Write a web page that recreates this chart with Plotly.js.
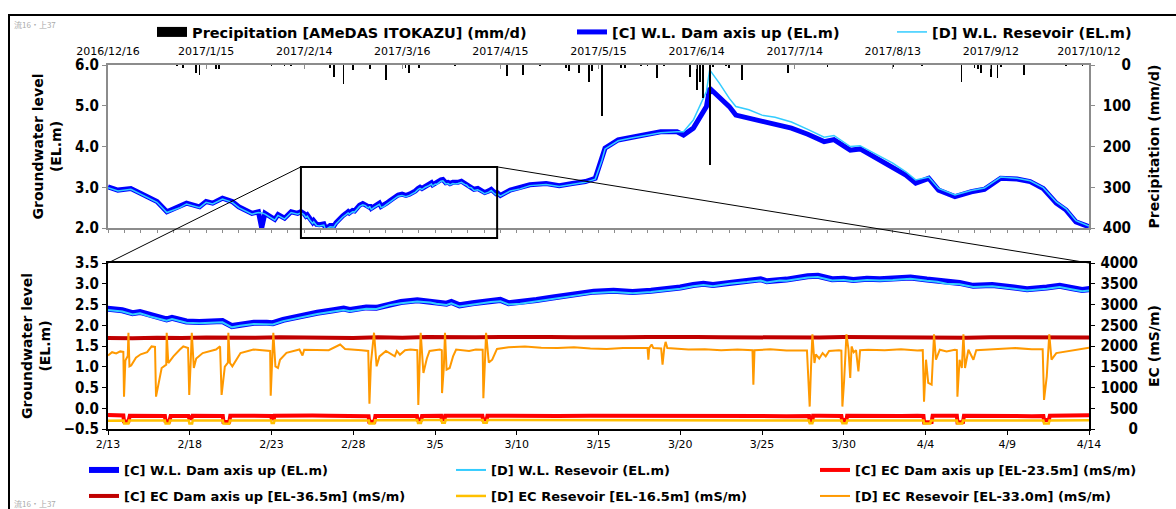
<!DOCTYPE html>
<html><head><meta charset="utf-8">
<script src="https://cdn.plot.ly/plotly-3.0.1.min.js"></script>
<style>html,body{margin:0;padding:0;background:#fff}#chart{width:1176px;height:509px}</style>
</head><body><div id="chart"></div>
<script>
// ---------------- DATA ----------------
const wlRange = ['2016-12-16', '2017-10-12'];
const zoomRange = ['2017-02-13', '2017-04-14'];

const precipTickDates = ['2016-12-16','2017-01-15','2017-02-14','2017-03-16','2017-04-15','2017-05-15','2017-06-14','2017-07-14','2017-08-13','2017-09-12','2017-10-12'];
const precipTickLabels = ['2016/12/16','2017/1/15','2017/2/14','2017/3/16','2017/4/15','2017/5/15','2017/6/14','2017/7/14','2017/8/13','2017/9/12','2017/10/12'];
const zoomTickDates = ['2017-02-13','2017-02-18','2017-02-23','2017-02-28','2017-03-05','2017-03-10','2017-03-15','2017-03-20','2017-03-25','2017-03-30','2017-04-04','2017-04-09','2017-04-14'];
const zoomTickLabels = ['2/13','2/18','2/23','2/28','3/5','3/10','3/15','3/20','3/25','3/30','4/4','4/9','4/14'];

// Precipitation AMeDAS ITOKAZU (mm/d)
const precipDates = ['2017-01-06','2017-01-08','2017-01-12','2017-01-13','2017-01-18','2017-01-19','2017-02-04','2017-02-08','2017-02-10','2017-02-22','2017-02-23','2017-02-26','2017-03-01','2017-03-06','2017-03-11','2017-03-17','2017-03-18','2017-03-21','2017-04-01','2017-04-17','2017-04-22','2017-04-27','2017-05-05','2017-05-06','2017-05-09','2017-05-12','2017-05-13','2017-05-16','2017-05-22','2017-05-23','2017-05-28','2017-05-30','2017-06-02','2017-06-04','2017-06-12','2017-06-14','2017-06-15','2017-06-16','2017-06-18','2017-06-19','2017-06-23','2017-06-24','2017-06-28','2017-07-12','2017-07-24','2017-08-13','2017-08-22','2017-09-03','2017-09-07','2017-09-08','2017-09-09','2017-09-12','2017-09-14','2017-09-15','2017-09-22','2017-10-05','2017-10-10'];
const precipValues = [3,8,20,25,10,10,3,3,3,8,29,47,12,10,38,8,20,8,3,26,24,2,8,15,19,41,15,125,8,8,3,3,33,3,29,61,41,82,245,5,3,8,37,20,5,4,3,41,8,10,20,29,33,5,25,3,3];

// Water level: [date, [C] Dam axis up, [D] Reservoir] (EL.m)
const waterLevel = [
['2016-12-16',3.01,2.99],['2016-12-19',2.93,2.91],['2016-12-23',2.97,2.95],['2016-12-26',2.85,2.83],['2016-12-31',2.65,2.63],
['2017-01-03',2.40,2.38],['2017-01-07',2.52,2.50],['2017-01-09',2.61,2.59],['2017-01-13',2.52,2.50],['2017-01-15',2.65,2.63],
['2017-01-17',2.61,2.59],['2017-01-20',2.73,2.71],['2017-01-23',2.65,2.63],['2017-01-25',2.52,2.50],['2017-01-29',2.36,2.34],
['2017-01-31',2.40,2.38],['2017-02-01',2.00,2.37],['2017-02-02',2.36,2.34],['2017-02-05',2.21,2.19],['2017-02-06',2.33,2.31],
['2017-02-08',2.24,2.22],['2017-02-10',2.40,2.38],['2017-02-12',2.36,2.34],
['2017-02-13 00:00',2.40,2.37],['2017-02-13 21:00',2.36,2.33],['2017-02-14 12:00',2.29,2.26],['2017-02-14 23:00',2.32,2.29],
['2017-02-15 14:00',2.24,2.21],['2017-02-16 00:00',2.20,2.17],['2017-02-16 14:00',2.14,2.11],['2017-02-16 22:00',2.18,2.15],
['2017-02-17 10:00',2.13,2.10],['2017-02-17 19:00',2.09,2.06],['2017-02-18 14:00',2.08,2.05],['2017-02-19 10:00',2.10,2.07],
['2017-02-20 00:00',2.10,2.07],['2017-02-20 14:00',1.98,1.95],['2017-02-21 02:00',2.02,1.99],['2017-02-21 22:00',2.06,2.03],
['2017-02-22 17:00',2.06,2.03],['2017-02-23 02:00',2.05,2.02],['2017-02-23 17:00',2.13,2.10],['2017-02-24 17:00',2.22,2.19],
['2017-02-25 19:00',2.30,2.27],['2017-02-26 19:00',2.36,2.33],['2017-02-27 10:00',2.40,2.37],['2017-02-27 19:00',2.37,2.34],
['2017-02-28 19:00',2.43,2.40],['2017-03-01 10:00',2.42,2.39],['2017-03-02 05:00',2.51,2.48],['2017-03-02 22:00',2.56,2.53],
['2017-03-03 22:00',2.60,2.57],['2017-03-04 17:00',2.58,2.55],['2017-03-05 02:00',2.55,2.52],['2017-03-05 17:00',2.52,2.49],
['2017-03-06 00:00',2.56,2.53],['2017-03-06 12:00',2.48,2.45],['2017-03-07 07:00',2.53,2.50],['2017-03-08 10:00',2.59,2.56],
['2017-03-09 00:00',2.61,2.58],['2017-03-09 12:00',2.53,2.50],['2017-03-10 05:00',2.55,2.52],['2017-03-11 05:00',2.61,2.58],
['2017-03-12 05:00',2.67,2.64],['2017-03-13 10:00',2.75,2.72],['2017-03-14 17:00',2.81,2.78],['2017-03-15 22:00',2.83,2.80],
['2017-03-17 02:00',2.80,2.77],['2017-03-18 05:00',2.83,2.80],['2017-03-19 05:00',2.87,2.84],['2017-03-20 00:00',2.91,2.88],
['2017-03-20 19:00',2.97,2.94],['2017-03-21 10:00',3.00,2.97],['2017-03-22 00:00',2.97,2.94],['2017-03-23 00:00',3.03,3.00],
['2017-03-24 02:00',3.07,3.04],['2017-03-24 22:00',3.11,3.08],['2017-03-25 07:00',3.06,3.03],['2017-03-26 02:00',3.11,3.08],
['2017-03-26 12:00',3.10,3.07],['2017-03-27 19:00',3.18,3.15],['2017-03-28 10:00',3.19,3.16],['2017-03-29 07:00',3.11,3.08],
['2017-03-30 00:00',3.12,3.09],['2017-03-30 14:00',3.09,3.06],['2017-03-31 10:00',3.12,3.09],['2017-04-01 05:00',3.11,3.08],
['2017-04-02 00:00',3.12,3.09],['2017-04-03 02:00',3.15,3.12],['2017-04-04 02:00',3.10,3.07],['2017-04-04 17:00',3.08,3.05],
['2017-04-05 07:00',3.03,3.00],['2017-04-06 02:00',3.02,2.99],['2017-04-06 22:00',2.95,2.92],['2017-04-08 02:00',2.97,2.94],
['2017-04-09 10:00',2.91,2.88],['2017-04-10 05:00',2.87,2.84],['2017-04-11 10:00',2.91,2.88],['2017-04-12 05:00',2.95,2.92],
['2017-04-13 00:00',2.89,2.86],['2017-04-13 14:00',2.85,2.82],['2017-04-14 00:00',2.87,2.84],
['2017-04-15',2.80,2.78],['2017-04-18',2.93,2.91],['2017-04-21',2.98,2.96],['2017-04-24',3.06,3.04],['2017-04-29',3.09,3.07],
['2017-05-03',3.04,3.02],['2017-05-07',3.09,3.07],['2017-05-11',3.14,3.12],['2017-05-14',3.22,3.20],['2017-05-16',3.67,3.65],
['2017-05-17',3.96,3.94],['2017-05-21',4.16,4.14],['2017-05-25',4.23,4.21],['2017-05-29',4.28,4.26],['2017-06-03',4.36,4.34],
['2017-06-08',4.36,4.36],['2017-06-10',4.28,4.36],['2017-06-13',4.45,4.65],['2017-06-15',4.73,4.98],['2017-06-17',4.98,5.35],
['2017-06-18',5.43,5.88],['2017-06-21',5.22,5.55],['2017-06-24',4.98,5.18],['2017-06-26',4.77,4.98],['2017-06-30',4.69,4.90],
['2017-07-04',4.61,4.77],['2017-07-08',4.55,4.72],['2017-07-13',4.45,4.60],['2017-07-18',4.30,4.42],['2017-07-23',4.12,4.23],
['2017-07-26',4.17,4.27],['2017-07-31',3.91,4.00],['2017-08-03',3.94,4.02],['2017-08-08',3.72,3.80],['2017-08-13',3.50,3.59],
['2017-08-17',3.30,3.38],['2017-08-20',3.10,3.18],['2017-08-24',3.22,3.25],['2017-08-27',2.93,2.97],['2017-09-01',2.77,2.81],
['2017-09-06',2.89,2.92],['2017-09-10',2.95,2.98],['2017-09-15',3.22,3.25],['2017-09-20',3.20,3.22],['2017-09-24',3.14,3.16],
['2017-09-28',2.97,2.99],['2017-10-02',2.61,2.64],['2017-10-05',2.44,2.47],['2017-10-08',2.15,2.18],['2017-10-12',2.03,2.05]
];

// EC series (mS/m), 2017, [MM-DD HH:mm, value]
const ecC235 = [
['02-13 00:00',340],['02-13 12:00',330],['02-13 22:30',325],['02-13 23:30',185],['02-14 06:00',180],['02-14 08:00',320],
['02-15 00:00',315],['02-15 12:00',320],['02-16 11:30',315],['02-16 12:30',190],['02-16 18:00',185],['02-16 20:00',315],
['02-17 12:00',320],['02-17 22:00',315],['02-17 23:15',260],['02-18 02:30',255],['02-18 04:00',320],['02-19 12:00',320],
['02-20 00:30',315],['02-20 01:30',170],['02-20 10:00',175],['02-20 11:30',320],['02-21 12:00',325],['02-22 12:00',320],
['02-22 23:30',315],['02-23 00:15',255],['02-23 03:30',255],['02-23 04:30',320],['02-24 12:00',330],['02-25 12:00',325],
['02-26 12:00',320],['02-27 12:00',320],['02-28 12:00',315],['02-28 22:30',310],['02-28 23:30',175],['03-01 07:00',175],
['03-01 08:30',315],['03-02 12:00',320],['03-03 12:00',315],['03-03 21:30',315],['03-03 22:30',230],['03-04 04:00',230],
['03-04 05:00',315],['03-05 09:00',320],['03-05 10:00',230],['03-05 14:00',235],['03-05 15:00',320],['03-06 12:00',325],
['03-07 12:00',320],['03-07 21:30',320],['03-07 22:30',230],['03-08 04:00',235],['03-08 05:00',320],['03-09 12:00',325],
['03-10 12:00',320],['03-12 12:00',315],['03-14 12:00',320],['03-16 12:00',315],['03-18 12:00',320],['03-20 12:00',315],
['03-22 12:00',310],['03-24 12:00',315],['03-26 12:00',310],['03-27 21:00',315],['03-27 22:00',205],['03-28 02:00',210],
['03-28 03:00',320],['03-28 12:00',320],['03-29 20:30',315],['03-29 21:30',215],['03-30 04:00',220],['03-30 05:00',320],
['03-31 12:00',310],['04-01 12:00',320],['04-02 12:00',315],['04-03 12:00',320],['04-03 21:00',315],['04-03 22:00',160],
['04-04 09:00',165],['04-04 10:30',320],['04-05 12:00',315],['04-05 22:00',320],['04-05 23:00',160],['04-06 07:00',165],
['04-06 08:30',320],['04-07 12:00',310],['04-08 12:00',320],['04-09 12:00',315],['04-10 12:00',310],['04-11 05:00',315],
['04-11 06:00',215],['04-11 13:00',220],['04-11 14:30',320],['04-12 12:00',320],['04-13 12:00',325],['04-14 00:00',330]
];
const ecC365 = [
['02-13 00:00',2195],['02-14 12:00',2185],['02-16 00:00',2200],['02-17 12:00',2190],['02-19 00:00',2205],['02-20 12:00',2195],
['02-22 00:00',2200],['02-23 12:00',2210],['02-25 00:00',2200],['02-26 12:00',2205],['02-28 00:00',2195],['03-01 12:00',2210],
['03-03 00:00',2200],['03-04 12:00',2215],['03-06 00:00',2205],['03-07 12:00',2210],['03-09 00:00',2215],['03-10 12:00',2205],
['03-12 00:00',2215],['03-13 12:00',2210],['03-15 00:00',2220],['03-16 12:00',2210],['03-18 00:00',2215],['03-19 12:00',2205],
['03-21 00:00',2215],['03-22 12:00',2210],['03-24 00:00',2205],['03-25 12:00',2215],['03-27 00:00',2210],['03-28 12:00',2205],
['03-30 00:00',2215],['03-31 12:00',2210],['04-02 00:00',2205],['04-03 12:00',2215],['04-05 00:00',2210],['04-06 12:00',2200],
['04-08 00:00',2210],['04-09 12:00',2205],['04-11 00:00',2200],['04-12 12:00',2210],['04-14 00:00',2205]
];
const ecD165 = [
['02-13 00:00',200],['02-13 12:00',205],['02-13 23:00',205],['02-13 23:45',130],['02-14 06:00',130],['02-14 07:00',205],
['02-15 12:00',210],['02-16 11:30',205],['02-16 12:30',130],['02-16 18:00',130],['02-16 19:00',205],['02-17 22:30',205],
['02-17 23:30',130],['02-18 03:30',130],['02-18 04:30',205],['02-19 12:00',210],['02-20 00:30',205],['02-20 01:30',130],
['02-20 10:00',125],['02-20 11:00',205],['02-21 12:00',210],['02-22 23:30',205],['02-23 00:15',145],['02-23 03:30',145],
['02-23 04:30',205],['02-25 12:00',210],['02-27 12:00',210],['02-28 23:00',205],['02-28 23:45',130],['03-01 07:00',130],
['03-01 08:00',210],['03-03 22:00',215],['03-03 23:00',145],['03-04 03:30',145],['03-04 04:30',215],['03-05 09:30',215],
['03-05 10:30',150],['03-05 14:30',150],['03-05 15:30',215],['03-07 22:00',215],['03-07 23:00',150],['03-08 04:00',150],
['03-08 05:00',215],['03-12 12:00',215],['03-17 12:00',215],['03-22 12:00',210],['03-27 21:00',205],['03-27 22:00',140],
['03-28 02:00',140],['03-28 03:00',205],['03-29 21:00',205],['03-29 22:00',140],['03-30 04:00',140],['03-30 05:00',205],
['04-03 21:00',205],['04-03 22:00',130],['04-04 07:00',130],['04-04 08:00',205],['04-05 22:00',205],['04-05 23:00',130],
['04-06 06:00',130],['04-06 07:00',205],['04-11 05:00',205],['04-11 06:00',135],['04-11 13:00',135],['04-11 14:00',205],
['04-14 00:00',210]
];
const ecD330 = [
['02-13 00:00',1770],['02-13 06:00',1850],['02-13 12:00',1820],['02-13 18:00',1870],['02-13 22:30',1860],['02-13 23:30',780],
['02-14 01:30',1650],['02-14 05:00',1760],['02-14 06:00',2320],['02-14 07:30',1510],['02-14 10:00',1530],['02-14 17:00',1720],
['02-15 00:00',1800],['02-15 09:30',1850],['02-15 16:00',1990],['02-15 21:00',1980],['02-15 22:30',780],['02-16 06:45',1470],
['02-16 13:30',1550],['02-16 14:10',2320],['02-16 16:30',1590],['02-17 00:00',1750],['02-17 09:30',1915],['02-17 14:30',1990],
['02-17 21:30',1950],['02-17 23:15',820],['02-18 01:30',1650],['02-18 03:00',2320],['02-18 06:00',1470],['02-18 09:30',1700],
['02-18 19:00',1830],['02-19 14:30',1915],['02-19 20:30',1990],['02-19 22:45',820],['02-20 03:30',1500],['02-20 08:00',1600],
['02-20 08:40',2320],['02-20 11:00',1590],['02-20 14:30',1510],['02-21 02:30',1830],['02-21 21:30',1915],['02-22 17:00',1900],
['02-22 22:00',1880],['02-22 22:50',800],['02-23 01:30',1700],['02-23 02:40',2320],['02-23 05:45',1510],['02-23 09:30',1470],
['02-23 12:30',1670],['02-23 22:00',1834],['02-24 17:00',1915],['02-24 21:30',1770],['02-25 00:00',1910],['02-26 12:00',1900],
['02-27 04:48',2036],['02-27 12:00',1930],['02-28 12:00',1900],['02-28 22:00',1880],['02-28 23:45',610],['03-01 02:00',1600],
['03-01 06:30',2320],['03-01 10:20',1510],['03-01 14:30',1750],['03-02 00:00',1880],['03-02 13:00',1750],['03-02 16:00',1880],
['03-02 20:30',1790],['03-03 04:00',1900],['03-03 12:00',1915],['03-03 22:00',1900],['03-03 23:30',580],['03-04 01:30',1500],
['03-04 03:00',2320],['03-04 07:00',1350],['03-04 12:00',1700],['03-04 16:00',1880],['03-05 07:00',1915],['03-05 10:00',1900],
['03-05 10:20',865],['03-05 13:00',1500],['03-05 14:40',2320],['03-05 17:00',1430],['03-05 21:30',1470],['03-06 02:30',1750],
['03-06 07:00',1915],['03-07 02:00',1880],['03-07 12:00',1915],['03-07 22:00',1910],['03-07 23:00',740],['03-08 01:00',1500],
['03-08 03:00',2320],['03-08 07:00',1600],['03-08 12:00',1670],['03-08 19:00',1930],['03-09 12:00',1970],['03-10 12:00',1990],
['03-11 12:00',1960],['03-12 12:00',1950],['03-13 12:00',1970],['03-14 12:00',1940],['03-15 12:00',1930],['03-16 12:00',1950],
['03-17 12:00',1940],['03-18 00:00',1950],['03-18 01:12',1670],['03-18 02:30',1950],['03-18 06:00',2036],['03-18 08:30',1950],
['03-18 20:00',1940],['03-18 22:00',1550],['03-19 00:30',1950],['03-19 02:30',2100],['03-19 05:00',1950],['03-20 12:00',1915],
['03-21 12:00',1920],['03-22 12:00',1900],['03-23 12:00',1915],['03-24 06:00',1910],['03-24 10:00',1900],['03-24 11:20',1067],
['03-24 13:00',1900],['03-25 12:00',1920],['03-26 12:00',1890],['03-27 18:00',1890],['03-27 22:00',540],['03-28 00:00',1500],
['03-28 02:00',2280],['03-28 05:00',1590],['03-28 07:00',1800],['03-28 12:00',1700],['03-28 17:00',1830],['03-28 21:30',1750],
['03-29 02:30',1880],['03-29 17:00',1900],['03-29 20:30',1890],['03-29 22:00',540],['03-30 00:30',1150],['03-30 04:00',2280],
['03-30 07:00',1910],['03-30 09:30',1230],['03-30 11:30',1990],['03-30 14:30',1850],['03-30 18:00',1900],['03-30 21:30',1390],
['03-31 00:00',1900],['03-31 12:00',1910],['04-01 12:00',1900],['04-02 12:00',1920],['04-03 12:00',1890],['04-03 20:00',1900],
['04-03 21:50',660],['04-04 00:45',1670],['04-04 04:00',1110],['04-04 09:00',1067],['04-04 12:30',2280],['04-04 15:20',1670],
['04-04 21:00',1910],['04-05 07:00',1870],['04-05 19:00',1910],['04-05 22:00',1900],['04-05 22:50',780],['04-06 02:00',1670],
['04-06 05:20',1470],['04-06 07:40',2280],['04-06 10:00',1470],['04-06 15:00',1910],['04-06 22:20',1670],['04-07 02:30',1900],
['04-08 12:00',1930],['04-09 12:00',1950],['04-10 12:00',1920],['04-11 04:00',1920],['04-11 06:00',700],['04-11 10:00',1270],
['04-11 13:40',2280],['04-11 17:00',1670],['04-12 00:00',1830],['04-12 14:30',1870],['04-13 05:00',1910],['04-14 00:00',1960]
];

const names = {
  precip: 'Precipitation [AMeDAS ITOKAZU] (mm/d)',
  wlC: '[C] W.L. Dam axis up (EL.m)',
  wlD: '[D] W.L. Resevoir (EL.m)',
  ec235: '[C] EC Dam axis up [EL-23.5m] (mS/m)',
  ec365: '[C] EC Dam axis up [EL-36.5m] (mS/m)',
  ec165: '[D] EC Resevoir [EL-16.5m] (mS/m)',
  ec330: '[D] EC Resevoir [EL-33.0m] (mS/m)'
};

// ---------------- LAYOUT HELPERS ----------------
const W = 1176, H = 509;
const px = v => v / W;
const py = v => 1 - v / H;
const xDom = [px(108), px(1089)];
const yDomTop = [py(228), py(65)];
const yDomBot = [py(429), py(263)];
const wlYRange = [2, 6];
const precipRange = [400, 0];
const ecRange = [0, 4000];
const yOnTop = v => yDomTop[0] + (v - wlYRange[0]) / (wlYRange[1] - wlYRange[0]) * (yDomTop[1] - yDomTop[0]);

const FB = 'DejaVu Sans, sans-serif';
const FC = 'DejaVu Sans Condensed, DejaVu Sans, sans-serif';
const tickBold = {family: FC, size: 15, color: '#000', weight: 'bold'};
const titleBold = {family: FB, size: 14, color: '#000', weight: 'bold'};
const dateFont = {family: FB, size: 11, color: '#000'};

const col = k => waterLevel.map(r => r[k]);
const ecX = arr => arr.map(r => '2017-' + r[0]);
const ecY = arr => arr.map(r => r[1]);

const traces = [
  {type: 'scatter', mode: 'lines', x: col(0), y: col(1), xaxis: 'x', yaxis: 'y', name: names.wlC,
   line: {color: '#0000FF', width: 5}, legend: 'legend2'},
  {type: 'scatter', mode: 'lines', x: col(0), y: col(2), xaxis: 'x', yaxis: 'y', name: names.wlD,
   line: {color: '#33CCFF', width: 1.5}, legend: 'legend3'},
  {type: 'scatter', mode: 'lines', x: [null], y: [null], xaxis: 'x2', yaxis: 'y2', name: names.precip,
   line: {color: '#000', width: 10}, legend: 'legend', legendgroup: 'p', hoverinfo: 'skip'},
  {type: 'bar', x: precipDates, y: precipValues, xaxis: 'x2', yaxis: 'y5', name: names.precip,
   marker: {color: '#000', line: {width: 0}}, width: 0.55 * 86400000, showlegend: false, legendgroup: 'p'},
  {type: 'scatter', mode: 'lines', x: col(0), y: col(1), xaxis: 'x3', yaxis: 'y3', name: names.wlC,
   line: {color: '#0000FF', width: 6}, legend: 'legend4'},
  {type: 'scatter', mode: 'lines', x: col(0), y: col(2), xaxis: 'x3', yaxis: 'y3', name: names.wlD,
   line: {color: '#33CCFF', width: 2}, legend: 'legend5'},
  {type: 'scatter', mode: 'lines', x: ecX(ecC235), y: ecY(ecC235), xaxis: 'x3', yaxis: 'y4', name: names.ec235,
   line: {color: '#FF0000', width: 4}, legend: 'legend6'},
  {type: 'scatter', mode: 'lines', x: ecX(ecC365), y: ecY(ecC365), xaxis: 'x3', yaxis: 'y4', name: names.ec365,
   line: {color: '#C00000', width: 4}, legend: 'legend7'},
  {type: 'scatter', mode: 'lines', x: ecX(ecD165), y: ecY(ecD165), xaxis: 'x3', yaxis: 'y4', name: names.ec165,
   line: {color: '#FFC000', width: 2.5}, legend: 'legend8'},
  {type: 'scatter', mode: 'lines', x: ecX(ecD330), y: ecY(ecD330), xaxis: 'x3', yaxis: 'y6', name: names.ec330,
   line: {color: '#FF9900', width: 2}, legend: 'legend9'}
];

const leg = (x, y, size) => ({x: px(x), y: py(y), xanchor: 'left', yanchor: 'middle', bgcolor: 'rgba(0,0,0,0)',
  borderwidth: 0, font: {family: FB, size: size, color: '#000', weight: 'bold'}, itemclick: false});

const gray = '#8c8c8c';
const layout = {
  width: W, height: H, margin: {l: 0, r: 0, t: 0, b: 0, autoexpand: false}, paper_bgcolor: '#fff',
  plot_bgcolor: 'rgba(0,0,0,0)', showlegend: true, bargap: 0,
  xaxis: {domain: xDom, anchor: 'y', type: 'date', range: wlRange, showline: true, linecolor: gray, linewidth: 2,
    ticks: 'outside', ticklen: 3, tickcolor: gray, tickmode: 'linear', tick0: wlRange[0], dtick: 5 * 86400000,
    showticklabels: false, showgrid: false, zeroline: false},
  xaxis2: {overlaying: 'x', anchor: 'y', side: 'top', type: 'date', range: wlRange, showline: true, linecolor: gray,
    linewidth: 2, ticks: 'inside', ticklen: 4, tickcolor: gray, tickmode: 'array', tickvals: precipTickDates,
    ticktext: precipTickLabels, tickfont: dateFont, ticklabelstandoff: 4, showgrid: false, zeroline: false},
  yaxis: {domain: yDomTop, anchor: 'x', range: wlYRange, dtick: 1, tickformat: '.1f', ticks: 'outside', ticklen: 4,
    tickcolor: gray, showline: true, linecolor: gray, linewidth: 2, mirror: 'ticks', tickfont: tickBold,
    showgrid: false, zeroline: false, automargin: true,
    title: {text: 'Groundwater level<br>(EL.m)', font: titleBold, standoff: 10}},
  yaxis2: {overlaying: 'y', anchor: 'x', side: 'right', range: precipRange, showticklabels: false, ticks: '',
    showline: false, showgrid: false, zeroline: false, automargin: true,
    title: {text: 'Precipitation (mm/d)', font: titleBold, standoff: 60}},
  yaxis5: {overlaying: 'y', anchor: 'free', position: px(1131), side: 'left', range: precipRange, dtick: 100,
    ticks: '', showline: false, showgrid: false, zeroline: false, tickfont: tickBold},
  xaxis3: {domain: xDom, anchor: 'y3', type: 'date', range: zoomRange, showline: true, linecolor: '#000',
    linewidth: 2, mirror: true, ticks: 'outside', ticklen: 4, tickcolor: '#000', tickmode: 'array',
    tickvals: zoomTickDates, ticktext: zoomTickLabels, tickfont: dateFont, showgrid: false, zeroline: false},
  yaxis3: {domain: yDomBot, anchor: 'x3', range: [-0.5, 3.5], dtick: 0.5, tickformat: '.1f', ticks: 'outside',
    ticklen: 4, tickcolor: '#000', showline: true, linecolor: '#000', linewidth: 2, mirror: 'ticks',
    tickfont: tickBold, showgrid: false, zeroline: false, automargin: true,
    title: {text: 'Groundwater level<br>(EL.m)', font: titleBold, standoff: 10}},
  yaxis4: {overlaying: 'y3', anchor: 'x3', side: 'right', range: ecRange, showticklabels: false, ticks: '',
    showline: false, showgrid: false, zeroline: false, automargin: true,
    title: {text: 'EC (mS/m)', font: titleBold, standoff: 60}},
  yaxis6: {overlaying: 'y3', anchor: 'free', position: px(1138), side: 'left', range: ecRange, dtick: 500,
    ticks: '', showline: false, showgrid: false, zeroline: false, tickfont: tickBold},
  legend: leg(152, 32, 14.5),
  legend2: leg(572, 32, 14.5),
  legend3: leg(892, 32, 14.5),
  legend4: leg(84, 470, 13),
  legend5: leg(451, 470, 13),
  legend6: leg(815, 470, 13),
  legend7: leg(84, 496, 13),
  legend8: leg(451, 496, 13),
  legend9: leg(815, 496, 13),
  shapes: [
    {type: 'rect', xref: 'paper', yref: 'paper', x0: px(9), x1: px(1190), y0: py(530), y1: py(15),
     line: {color: '#000', width: 2}},
    {type: 'rect', xref: 'x', yref: 'paper', x0: zoomRange[0], x1: zoomRange[1], y0: py(238), y1: yOnTop(3.5),
     line: {color: '#000', width: 2}},
    {type: 'line', xref: 'x', yref: 'paper', x0: zoomRange[0], y0: yOnTop(3.5), x1: wlRange[0], y1: yDomBot[1],
     line: {color: '#000', width: 1}},
    {type: 'line', xref: 'x', yref: 'paper', x0: zoomRange[1], y0: yOnTop(3.5), x1: wlRange[1], y1: yDomBot[1],
     line: {color: '#000', width: 1}}
  ],
  annotations: [
    {xref: 'paper', yref: 'paper', x: px(12), y: py(25), xanchor: 'left', yanchor: 'middle', showarrow: false,
     text: '流16・上37', font: {family: 'Noto Sans CJK JP', size: 8, color: '#aaa'}},
    {xref: 'paper', yref: 'paper', x: px(12), y: py(503), xanchor: 'left', yanchor: 'middle', showarrow: false,
     text: '流16・上37', font: {family: 'Noto Sans CJK JP', size: 8, color: '#aaa'}}
  ]
};

Plotly.newPlot('chart', traces, layout, {displayModeBar: false, staticPlot: true});
</script></body></html>
